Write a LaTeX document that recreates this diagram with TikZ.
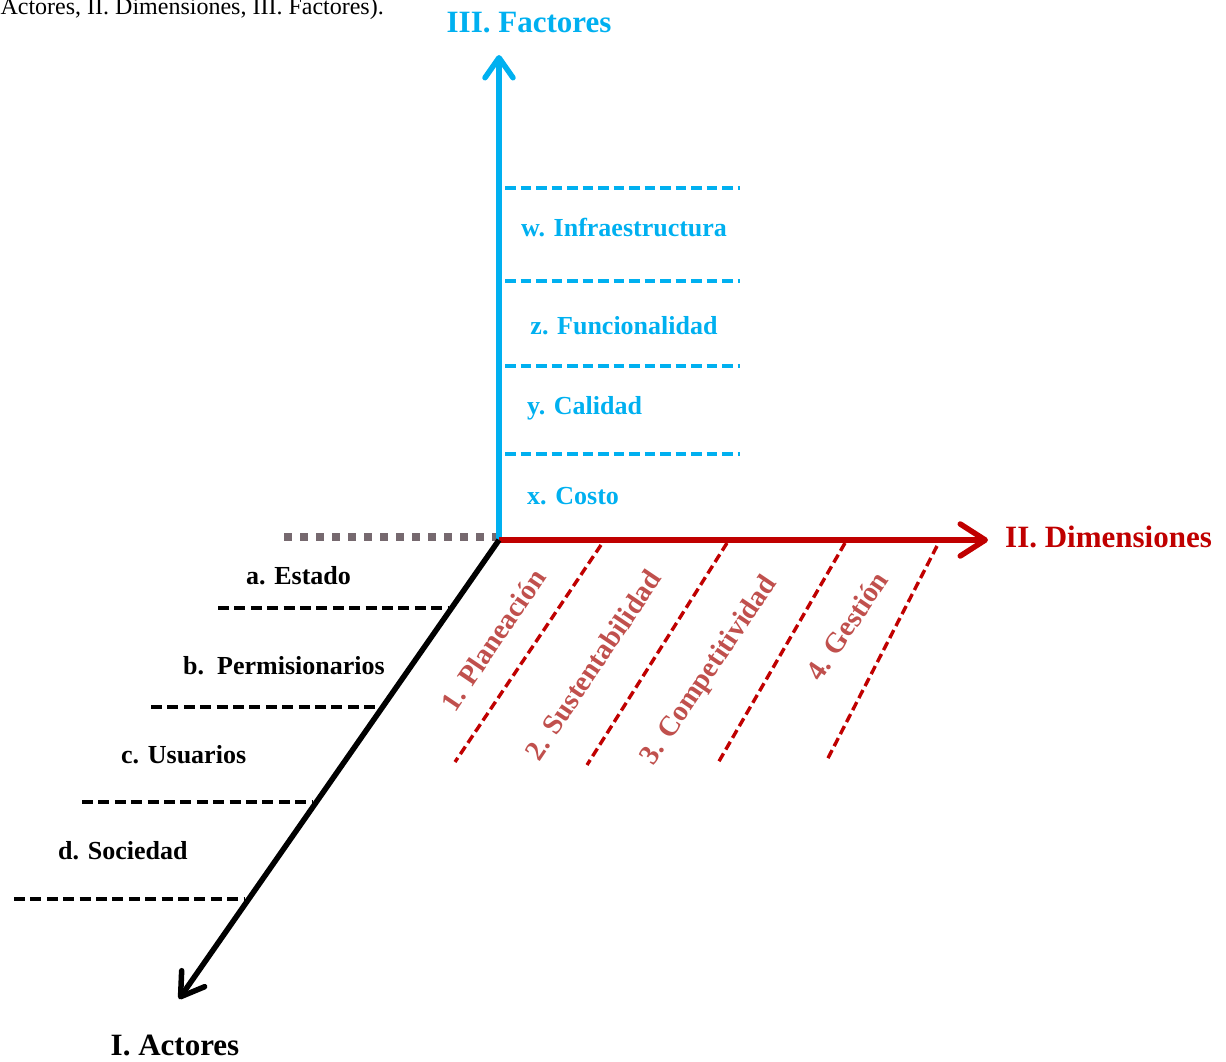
\documentclass[tikz,border=0pt]{standalone}
\usepackage{fontspec}
\setmainfont{Liberation Serif}
\usetikzlibrary{arrows.meta}
\definecolor{fblue}{HTML}{00B0F0}
\definecolor{dred}{HTML}{C00000}
\definecolor{tred}{HTML}{C0504D}
\definecolor{dgray}{HTML}{76696F}
\begin{document}
\begin{tikzpicture}[x=1pt,y=-1pt,
  axisline/.style={line width=5.5pt},
  axlab/.style={inner sep=0pt, font=\fontsize{31}{36}\selectfont\bfseries},
  itemlab/.style={inner sep=0pt, anchor=base west, font=\fontsize{26}{30}\selectfont\bfseries},
  dimlab/.style={inner sep=0pt, rotate=56, text=tred, font=\fontsize{28.5}{32}\selectfont\bfseries},
  bluedash/.style={draw=fblue, line width=3.5pt, dash pattern=on 10.5pt off 5pt},
  blackdash/.style={draw=black, line width=4.3pt, dash pattern=on 11pt off 5.4pt},
  reddash/.style={draw=dred, line width=3.4pt, dash pattern=on 9pt off 4.5pt},
  graydot/.style={draw=dgray, line width=8pt, dash pattern=on 8pt off 8pt}
]
\useasboundingbox (0,0) rectangle (1226,1062);

% caption fragment (cropped)
\node[inner sep=0pt, anchor=base east, font=\fontsize{24}{28}\selectfont] (cap) at (384,15) {Actores, II. Dimensiones, III. Factores).};

% key coordinates
\coordinate (O) at (499,540);
\coordinate (ftip) at (499,55);
\coordinate (dtip) at (988,540);
\coordinate (atip) at (179,999);
\coordinate (gl) at (284,537);
\coordinate (gr) at (496,537);

% gray dotted line
\draw[graydot] (gl) -- (gr);

% blue dashed separators
\foreach \y [count=\i] in {188,281,366,454}{
  \coordinate (bl\i) at (505,\y);
  \coordinate (br\i) at (740,\y);
  \draw[bluedash] (bl\i) -- (br\i);
}

% black dashed separators
\coordinate (al1) at (218,608); \coordinate (ar1) at (449,608);
\coordinate (al2) at (151,707); \coordinate (ar2) at (380,707);
\coordinate (al3) at (82,802);  \coordinate (ar3) at (313,802);
\coordinate (al4) at (14,899);  \coordinate (ar4) at (245,899);
\foreach \i in {1,...,4}{\draw[blackdash] (al\i) -- (ar\i);}

% red dashed slanted lines
\coordinate (dt1) at (601,545); \coordinate (db1) at (455,762);
\coordinate (dt2) at (727,543); \coordinate (db2) at (587,765);
\coordinate (dt3) at (845,543); \coordinate (db3) at (718,763);
\coordinate (dt4) at (937,546); \coordinate (db4) at (826,762);
\foreach \i in {1,...,4}{\draw[reddash] (dt\i) -- (db\i);}

% axes
\draw[axisline, fblue, -{Straight Barb[length=20pt,width=28pt,round]}] (O) -- (ftip);
\draw[axisline, dred, -{Straight Barb[length=25pt,width=32pt,round]}] (O) -- (dtip);
\draw[axisline, black, -{Straight Barb[length=22pt,width=28pt,round]}] (O) -- (atip);

% axis labels
\node[axlab, text=fblue, anchor=base] (fac) at (529,33) {III. Factores};
\node[axlab, text=dred, anchor=base west] (dim) at (1005,547) {II. Dimensiones};
\node[axlab, text=black, anchor=base] (act) at (175,1055) {I. Actores};

% factor labels
\node[itemlab, text=fblue] (w) at (521,236) {w. Infraestructura};
\node[itemlab, text=fblue, anchor=base] (z) at (624,334) {z. Funcionalidad};
\node[itemlab, text=fblue] (y) at (527,414) {y. Calidad};
\node[itemlab, text=fblue] (x) at (527,504) {x. Costo};

% actor labels
\node[itemlab] (a) at (246,584) {a. Estado};
\node[itemlab] (b) at (183,674) {b.\ \ Permisionarios};
\node[itemlab] (c) at (121,763) {c. Usuarios};
\node[itemlab] (d) at (58,859) {d. Sociedad};

% dimension labels
\node[dimlab] (d1) at (493,640) {1. Planeación};
\node[dimlab] (d2) at (593,665) {2. Sustentabilidad};
\node[dimlab] (d3) at (710,671) {3. Competitividad};
\node[dimlab] (d4) at (847,626) {4. Gestión};
\end{tikzpicture}
\end{document}
